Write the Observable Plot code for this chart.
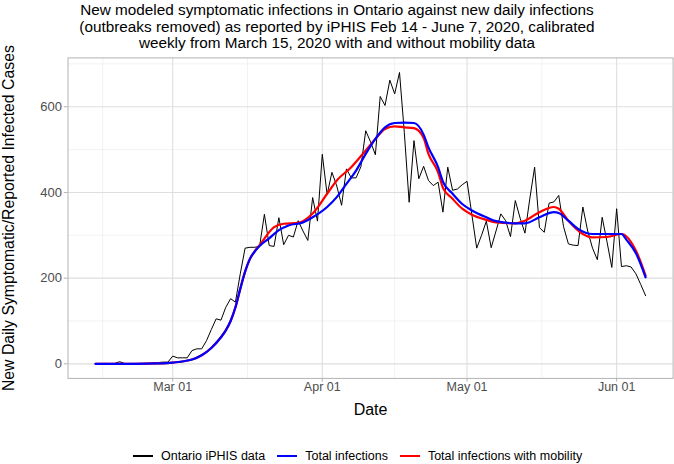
<!DOCTYPE html>
<html>
<head>
<meta charset="utf-8">
<script src="https://cdn.jsdelivr.net/npm/d3@7"></script>
<script src="https://cdn.jsdelivr.net/npm/@observablehq/plot@0.6"></script>
<style>
  html, body { margin: 0; padding: 0; background: #fff; }
  body { font-family: "Liberation Sans", Arial, sans-serif; }
  #wrap { position: relative; width: 674px; height: 464px; overflow: hidden; }
  #title { width: 674px; height: 52px; box-sizing: border-box; padding-top: 2px; text-align: center;
           font-size: 15.3px; line-height: 16.5px; color: #000; }
  #chart { height: 372px; }
  #legend { position: absolute; left: 133px; top: 449px; display: flex; align-items: center;
            font-size: 12.5px; color: #000; white-space: nowrap; }
  .item { display: flex; align-items: center; margin-right: 12px; }
  .sw { width: 20px; height: 2px; margin-right: 8px; }
</style>
</head>
<body>
<div id="wrap">
  <div id="title">New modeled symptomatic infections in Ontario against new daily infections<br>(outbreaks removed) as reported by iPHIS Feb 14 - June 7, 2020, calibrated<br>weekly from March 15, 2020 with and without mobility data</div>
  <div id="chart"></div>
  <div id="legend"></div>
</div>
<script>
// ---- data ----
const seriesNames = ["Ontario iPHIS data", "Total infections", "Total infections with mobility"];
const seriesColors = ["#000000", "#0000ff", "#ff0000"];

// Daily reported cases (iPHIS), starting 2020-02-14
const iphisStart = "2020-02-14";
const iphisValues = [
  0, 0, 1, 0, 1, 5, 1, 0, 1, 0, 1, 1, 2, 3, 4, 4,          // Feb 14 - Feb 29
  18, 14, 14, 14, 31, 35, 35, 54, 80, 105, 102, 132, 152, 144, 210, 270, // Mar 1 - Mar 16
  272, 272, 274, 349, 276, 274, 341, 278, 300, 296, 334, 310, 288, 388, 333, // Mar 17 - Mar 31
  489, 395, 447, 415, 370, 455, 434, 434, 460, 544, 518, 488, 624, 603, 662, // Apr 1 - Apr 15
  630, 680, 540, 377, 521, 432, 461, 428, 416, 424, 354, 459, 405, 408, 418, // Apr 16 - Apr 30
  426, 348, 270, 300, 333, 271, 310, 350, 334, 297, 381, 340, 305, 385, 459, 318, // May 1 - May 16
  307, 375, 378, 393, 320, 280, 277, 276, 366, 310, 270, 243, 342, 285, 225, // May 17 - May 31
  362, 227, 229, 226, 210, 185, 159                          // Jun 1 - Jun 7
];

// Modeled symptomatic infections (without mobility)
const blueDates = ["2020-02-14","2020-02-22","2020-02-27","2020-03-01","2020-03-05","2020-03-07","2020-03-09",
  "2020-03-11","2020-03-12","2020-03-13","2020-03-14","2020-03-15","2020-03-16","2020-03-17","2020-03-18",
  "2020-03-19","2020-03-21","2020-03-23","2020-03-25","2020-03-28","2020-03-30","2020-04-02","2020-04-04",
  "2020-04-06","2020-04-08","2020-04-10","2020-04-12","2020-04-14","2020-04-16","2020-04-18","2020-04-20",
  "2020-04-22","2020-04-23","2020-04-25","2020-04-26","2020-04-28","2020-04-30","2020-05-02","2020-05-05",
  "2020-05-07","2020-05-11","2020-05-13","2020-05-16","2020-05-19","2020-05-20","2020-05-22","2020-05-24",
  "2020-05-27","2020-05-30","2020-06-02","2020-06-03","2020-06-05","2020-06-07"];
const blueValues = [0, 0, 1, 3, 10, 20, 37,
  62, 78, 100, 132, 175, 215, 245, 262,
  275, 293, 312, 323, 330, 342, 366, 389,
  420, 451, 490, 525, 552, 562, 563, 562,
  535, 505, 459, 425, 397, 373, 358, 342,
  333, 328, 328, 342, 354, 352, 334, 315,
  303, 303, 303, 290, 258, 202];

// Modeled symptomatic infections (with mobility)
const redDates = ["2020-02-14","2020-02-22","2020-02-27","2020-03-01","2020-03-05","2020-03-07","2020-03-09",
  "2020-03-11","2020-03-12","2020-03-13","2020-03-14","2020-03-15","2020-03-16","2020-03-17","2020-03-18",
  "2020-03-19","2020-03-22","2020-03-24","2020-03-27","2020-03-30","2020-04-02","2020-04-04","2020-04-07",
  "2020-04-10","2020-04-12","2020-04-14","2020-04-16","2020-04-18","2020-04-20","2020-04-22","2020-04-23",
  "2020-04-25","2020-04-26","2020-04-28","2020-04-30","2020-05-02","2020-05-05","2020-05-07","2020-05-11",
  "2020-05-13","2020-05-16","2020-05-19","2020-05-20","2020-05-22","2020-05-25","2020-05-27","2020-05-30",
  "2020-06-02","2020-06-05","2020-06-07"];
const redValues = [0, 0, 1, 3, 10, 20, 37,
  62, 78, 100, 132, 175, 215, 245, 263,
  277, 319, 327, 329, 351, 397, 428, 459,
  498, 525, 548, 554, 552, 550, 527, 490,
  447, 411, 385, 362, 348, 336, 330, 328,
  334, 354, 366, 362, 334, 303, 295, 296,
  303, 264, 206];

const xTickDates = ["2020-03-01","2020-04-01","2020-05-01","2020-06-01"];
const xMinorDates = ["2020-02-15T12:00Z","2020-03-16T12:00Z","2020-04-16T00:00Z","2020-05-16T12:00Z"];
const yTicks = [0, 200, 400, 600];
const yMinor = [100, 300, 500, 700];
const xTitle = "Date";
const yTitle = "New Daily Symptomatic/Reported Infected Cases";

// ---- build tables ----
const parse = s => new Date(s.length > 10 ? s : s + "T00:00Z");
const start = parse(iphisStart);
const iphis = iphisValues.map((v, i) => ({date: d3.utcDay.offset(start, i), value: v}));
const blue = blueDates.map((d, i) => ({date: parse(d), value: blueValues[i]}));
const red = redDates.map((d, i) => ({date: parse(d), value: redValues[i]}));
const xTicks = xTickDates.map(parse);
const xMinor = xMinorDates.map(parse);

// ggplot-like 5% expansion
const allDates = iphis.map(d => d.date);
const x0 = d3.min(allDates), x1 = d3.max(allDates);
const xpad = (x1 - x0) * 0.05;
const ymax = d3.max([...iphisValues, ...blueValues, ...redValues]);
const ypad = ymax * 0.05;

const chart = Plot.plot({
  width: 674,
  height: 372,
  marginTop: 5.4,
  marginBottom: 46.1,
  marginLeft: 67.5,
  marginRight: 1.4,
  style: {fontFamily: "'Liberation Sans', Arial, sans-serif", background: "#fff", overflow: "visible"},
  x: {type: "utc", domain: [new Date(+x0 - xpad), new Date(+x1 + xpad)]},
  y: {domain: [-ypad, ymax + ypad]},
  marks: [
    Plot.ruleX(xMinor, {stroke: "#ececec", strokeWidth: 0.7}),
    Plot.ruleY(yMinor, {stroke: "#ececec", strokeWidth: 0.7}),
    Plot.ruleX(xTicks, {stroke: "#dedede", strokeWidth: 1.1}),
    Plot.ruleY(yTicks, {stroke: "#dedede", strokeWidth: 1.1}),
    Plot.frame({stroke: "#b3b3b3", strokeWidth: 1}),
    Plot.line(iphis, {x: "date", y: "value", stroke: seriesColors[0], strokeWidth: 1}),
    Plot.line(red, {x: "date", y: "value", stroke: seriesColors[2], strokeWidth: 2.2, curve: "monotone-x"}),
    Plot.line(blue, {x: "date", y: "value", stroke: seriesColors[1], strokeWidth: 2.2, curve: "monotone-x"}),
    Plot.axisX(xTicks, {tickFormat: d3.utcFormat("%b %d"), tickSize: 3.7, tickPadding: 0.5, fontSize: 12.5,
      stroke: "#b3b3b3", fill: "#4d4d4d", label: null}),
    Plot.axisY(yTicks, {tickSize: 3.7, tickPadding: 2.4, fontSize: 13,
      stroke: "#b3b3b3", fill: "#4d4d4d", label: null}),
    Plot.text([xTitle], {frameAnchor: "bottom", dy: 37, fontSize: 16, fill: "#000"}),
    Plot.text([yTitle], {frameAnchor: "left", textAnchor: "middle", dx: -59, rotate: -90, fontSize: 15.8, fill: "#000"})
  ]
});
document.getElementById("chart").appendChild(chart);

// ---- legend ----
const legend = document.getElementById("legend");
seriesNames.forEach((name, i) => {
  const item = document.createElement("div");
  item.className = "item";
  const sw = document.createElement("span");
  sw.className = "sw";
  sw.style.background = seriesColors[i];
  const label = document.createElement("span");
  label.textContent = name;
  item.appendChild(sw);
  item.appendChild(label);
  legend.appendChild(item);
});
</script>
</body>
</html>
